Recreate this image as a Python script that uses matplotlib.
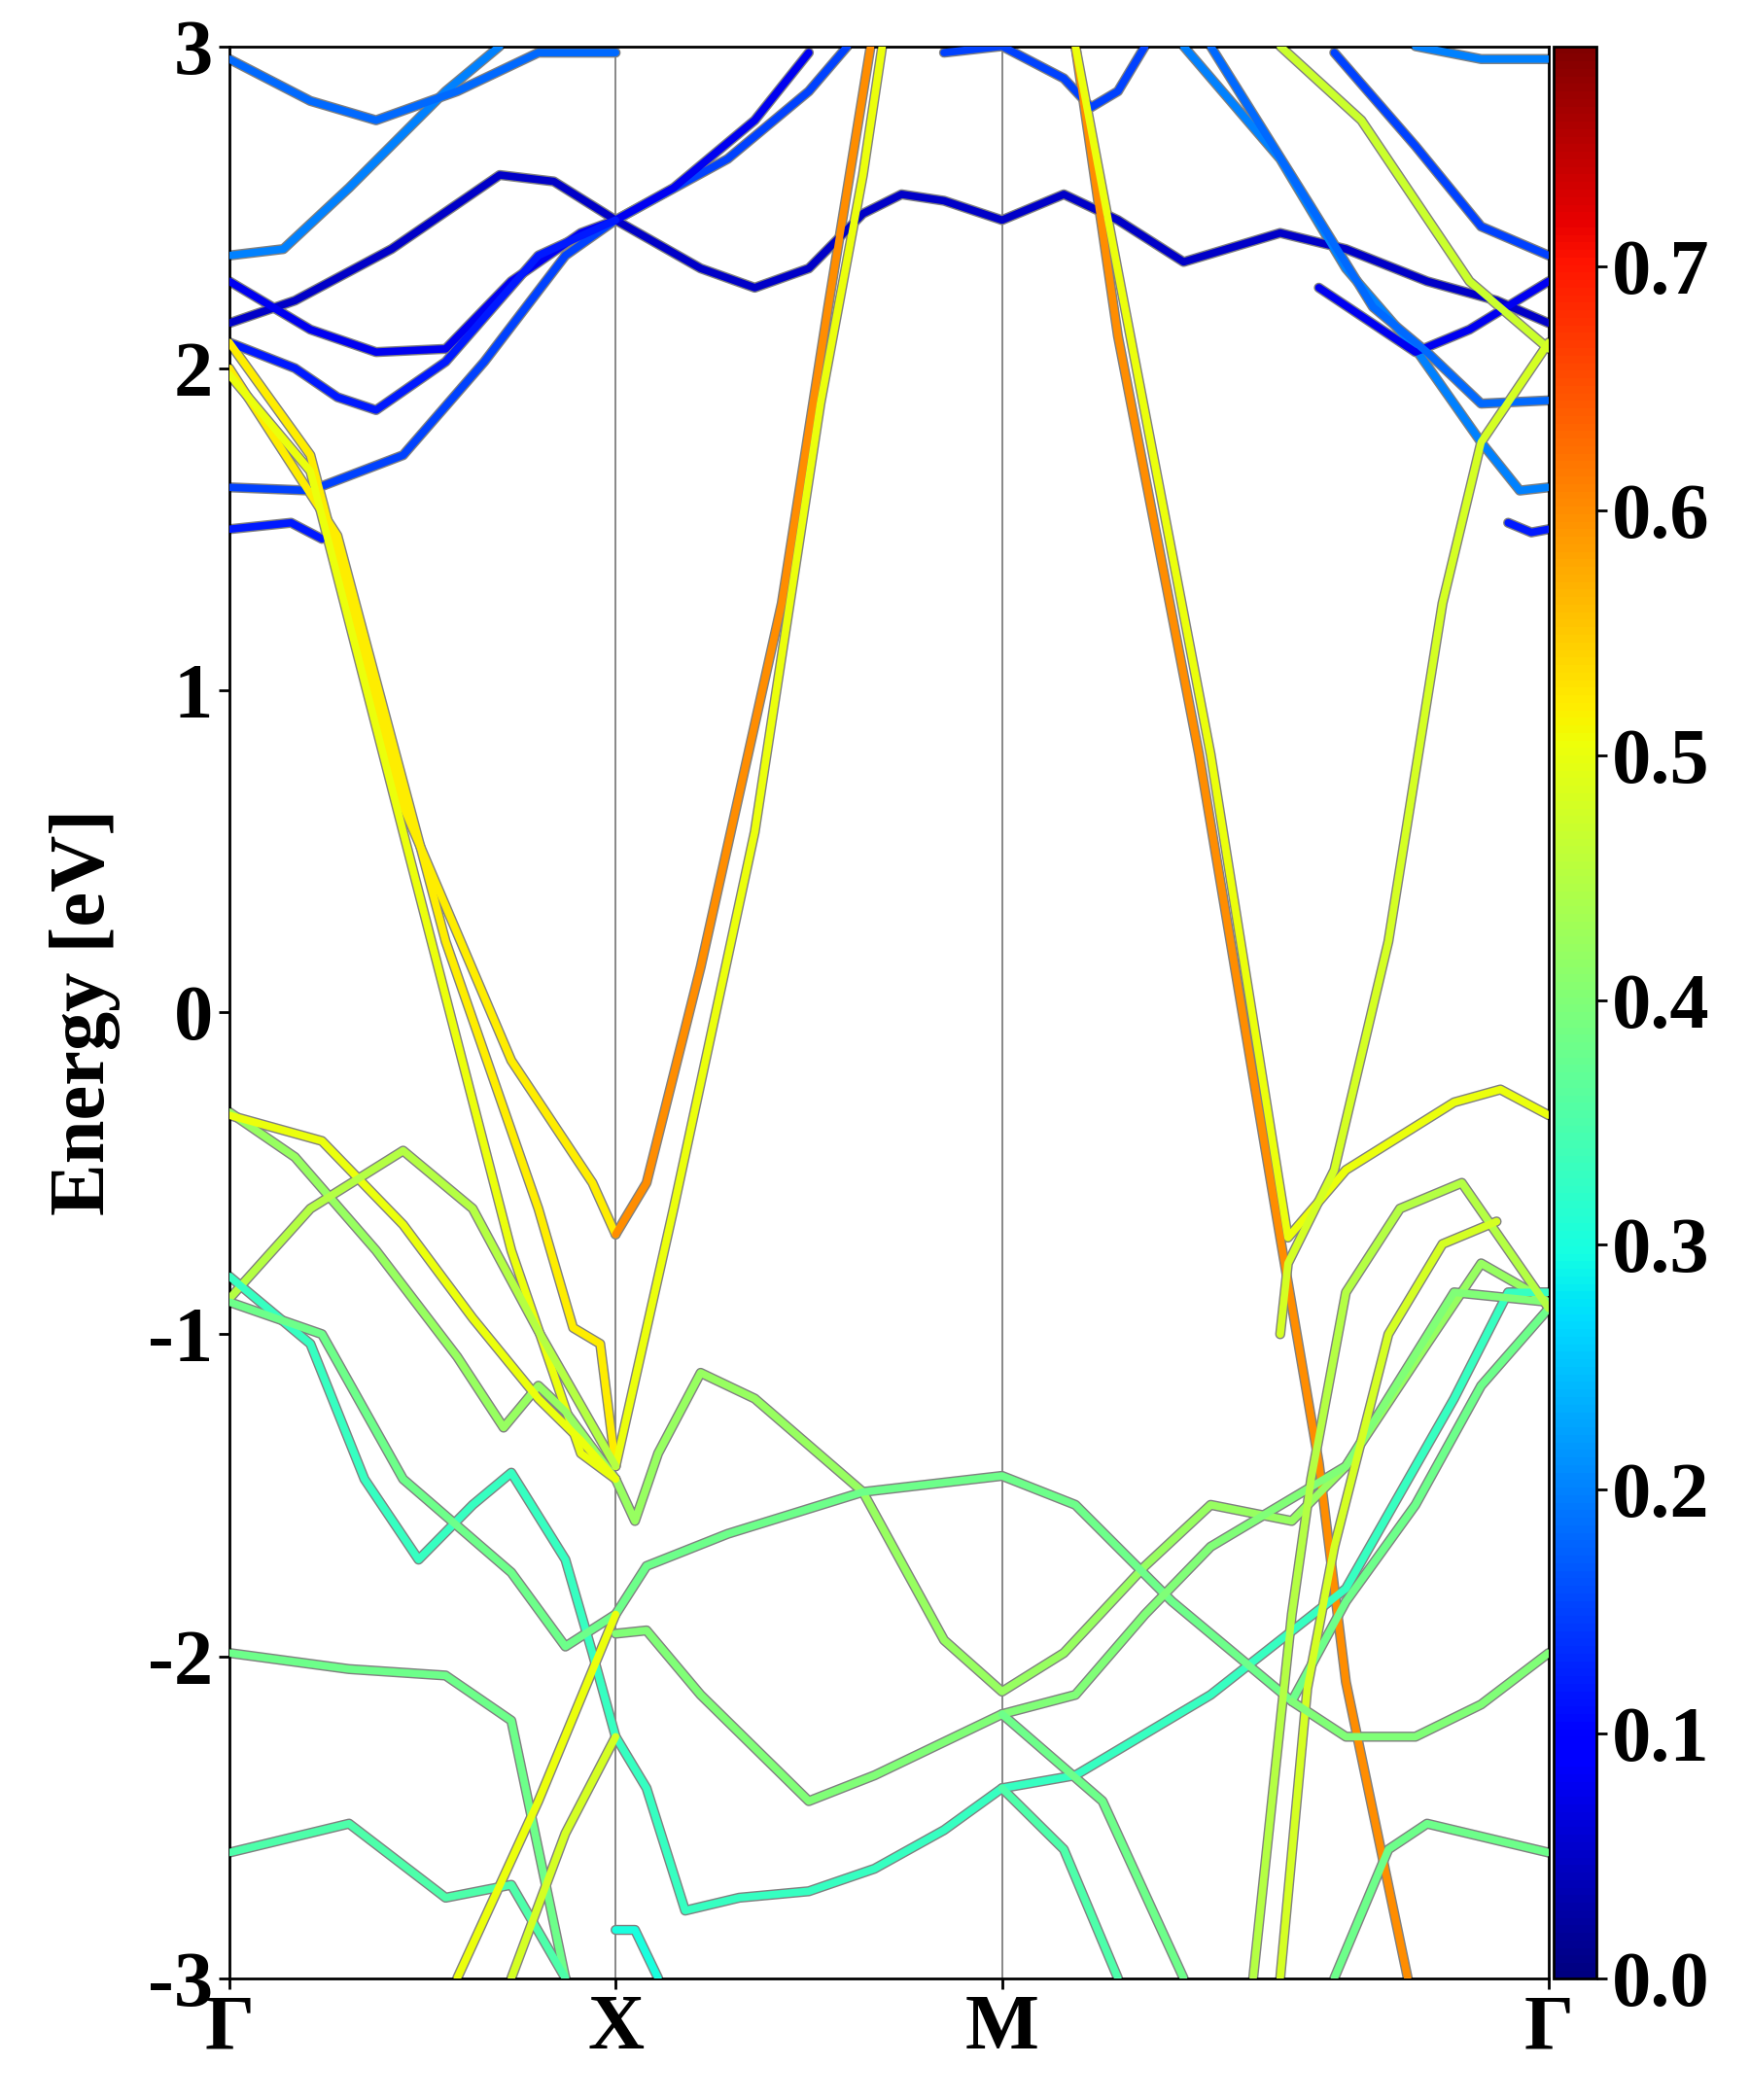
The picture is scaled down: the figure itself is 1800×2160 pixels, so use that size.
import numpy as np
import matplotlib
matplotlib.use("Agg")
import matplotlib.pyplot as plt
from matplotlib.colors import Normalize

plt.rcParams['font.family'] = ['Liberation Serif', 'DejaVu Serif']
plt.rcParams['font.weight'] = 'bold'

kpt_pos = [0.0, 1.0, 2.0, 3.415]
kpt_labels = ['Γ', 'X', 'M', 'Γ']
yticks = [-3, -2, -1, 0, 1, 2, 3]
cb_ticks = [0.0, 0.1, 0.2, 0.3, 0.4, 0.5, 0.6, 0.7]

# bands: (k list, E list, weight)
bands = [
    ([0, 0.16, 0.24], [1.50, 1.52, 1.47], 0.12),
    ([0, 0.21, 0.45, 0.66, 0.87, 1.0, 1.29, 1.50, 1.60], [1.63, 1.62, 1.73, 2.02, 2.35, 2.46, 2.65, 2.86, 3.0], 0.15),
    ([0, 0.17, 0.42, 0.70, 0.84, 1.0, 1.22, 1.36, 1.50, 1.64, 1.74, 1.85, 2.0, 2.16, 2.30, 2.47, 2.72, 2.89, 3.10, 3.28, 3.415],
     [2.14, 2.21, 2.37, 2.60, 2.58, 2.46, 2.31, 2.25, 2.31, 2.48, 2.54, 2.52, 2.46, 2.54, 2.46, 2.33, 2.42, 2.37, 2.27, 2.21, 2.14], 0.05),
    ([0, 0.21, 0.38, 0.56, 0.73, 0.91, 1.0, 1.15, 1.36, 1.50], [2.27, 2.12, 2.05, 2.06, 2.27, 2.42, 2.46, 2.56, 2.77, 2.98], 0.08),
    ([0, 0.17, 0.28, 0.38, 0.56, 0.80, 1.0], [2.08, 2.0, 1.91, 1.87, 2.02, 2.35, 2.46], 0.12),
    ([0, 0.14, 0.31, 0.56, 0.70], [2.35, 2.37, 2.56, 2.86, 3.0], 0.2),
    ([0, 0.21, 0.38, 0.59, 0.80, 1.0], [2.96, 2.83, 2.77, 2.86, 2.98, 2.98], 0.18),
    ([1.85, 2.0, 2.16, 2.23, 2.30, 2.37], [2.98, 3.0, 2.9, 2.81, 2.86, 3.0], 0.15),
    ([2.47, 2.72, 2.89, 3.07, 3.24, 3.34, 3.415], [3.0, 2.65, 2.31, 2.06, 1.77, 1.62, 1.63], 0.2),
    ([2.82, 3.07, 3.21, 3.415], [2.25, 2.05, 2.12, 2.27], 0.08),
    ([2.54, 2.79, 2.96, 3.10, 3.24, 3.415], [3.0, 2.52, 2.19, 2.05, 1.89, 1.90], 0.18),
    ([2.86, 3.07, 3.24, 3.415], [2.98, 2.69, 2.44, 2.35], 0.15),
    ([3.07, 3.24, 3.415], [3.0, 2.96, 2.96], 0.2),
    ([3.31, 3.37, 3.415], [1.52, 1.49, 1.50], 0.12),
    ([2.72, 2.93, 3.21, 3.415], [3.0, 2.77, 2.27, 2.06], 0.47),
    # yellow / orange
    ([0, 0.21, 0.45, 0.73, 0.94, 1.0], [2.08, 1.73, 0.64, -0.15, -0.53, -0.69], 0.52),
    ([1.0, 1.08, 1.22, 1.43, 1.55, 1.66], [-0.69, -0.53, 0.14, 1.27, 2.19, 3.0], 0.6),
    ([0, 0.28, 0.56, 0.80, 0.89, 0.96, 1.0], [2.0, 1.48, 0.22, -0.61, -0.98, -1.03, -1.41], 0.52),
    ([1.0, 1.15, 1.36, 1.53, 1.64, 1.69], [-1.41, -0.61, 0.56, 1.89, 2.6, 3.0], 0.5),
    ([0, 0.21, 0.45, 0.73, 0.91, 1.0], [1.98, 1.68, 0.56, -0.74, -1.37, -1.45], 0.5),
    ([2.19, 2.30, 2.51, 2.72, 2.82, 2.89, 3.05], [3.0, 2.1, 0.8, -0.7, -1.4, -2.08, -3.0], 0.6),
    ([2.19, 2.30, 2.54, 2.74, 2.89, 3.17, 3.29, 3.415], [3.0, 2.3, 0.8, -0.7, -0.49, -0.28, -0.24, -0.32], 0.5),
    ([3.415, 3.24, 3.14, 3.0, 2.86, 2.74, 2.72], [2.08, 1.77, 1.27, 0.22, -0.49, -0.78, -1.0], 0.48),
    # valence
    ([0, 0.17, 0.38, 0.59, 0.71, 0.80, 0.87, 1.0, 1.05, 1.11, 1.22, 1.36, 1.64, 1.85, 2.0, 2.16, 2.37, 2.54, 2.75, 2.89, 3.10, 3.24, 3.415],
     [-0.31, -0.45, -0.74, -1.07, -1.29, -1.16, -1.24, -1.45, -1.58, -1.37, -1.12, -1.20, -1.49, -1.95, -2.11, -1.99, -1.72, -1.53, -1.58, -1.41, -1.03, -0.78, -0.90], 0.42),
    ([0, 0.24, 0.45, 0.63, 0.80, 0.91, 1.0], [-0.32, -0.4, -0.66, -0.95, -1.2, -1.33, -1.45], 0.5),
    ([0, 0.21, 0.45, 0.63, 0.80, 1.0], [-0.89, -0.61, -0.43, -0.61, -0.99, -1.41], 0.45),
    ([0, 0.21, 0.35, 0.49, 0.63, 0.73, 0.87, 0.94, 1.0, 1.08, 1.18, 1.32, 1.50, 1.67, 1.85, 2.0, 2.19, 2.54, 2.89, 3.17, 3.31, 3.415],
     [-0.82, -1.03, -1.45, -1.70, -1.53, -1.43, -1.70, -1.99, -2.25, -2.41, -2.79, -2.75, -2.73, -2.66, -2.54, -2.41, -2.37, -2.12, -1.79, -1.20, -0.87, -0.87], 0.33),
    ([0, 0.24, 0.45, 0.73, 0.87, 1.0, 1.08, 1.29, 1.64, 2.0, 2.19, 2.44, 2.65, 2.75, 2.89, 3.07, 3.24, 3.415],
     [-0.90, -1.0, -1.45, -1.74, -1.97, -1.87, -1.72, -1.62, -1.49, -1.44, -1.53, -1.83, -2.04, -2.14, -1.83, -1.53, -1.16, -0.92], 0.38),
    ([1.0, 1.08, 1.22, 1.50, 1.67, 2.0, 2.19, 2.37, 2.54, 2.89, 3.17, 3.415],
     [-1.93, -1.92, -2.12, -2.45, -2.37, -2.18, -2.12, -1.87, -1.66, -1.41, -0.87, -0.90], 0.4),
    ([0, 0.31, 0.56, 0.73, 0.87], [-1.99, -2.04, -2.06, -2.2, -3.0], 0.38),
    ([0, 0.31, 0.56, 0.73, 0.87], [-2.61, -2.52, -2.75, -2.71, -3.0], 0.35),
    ([1.0, 1.05, 1.11], [-2.85, -2.85, -3.0], 0.3),
    ([1.0, 0.80, 0.59], [-1.87, -2.45, -3.0], 0.5),
    ([1.0, 0.87, 0.73], [-2.25, -2.55, -3.0], 0.48),
    ([2.0, 2.16, 2.30], [-2.41, -2.6, -3.0], 0.35),
    ([2.0, 2.26, 2.47], [-2.18, -2.45, -3.0], 0.38),
    ([2.65, 2.75, 2.80, 2.89, 3.03, 3.19, 3.415], [-3.0, -1.87, -1.45, -0.87, -0.61, -0.53, -0.92], 0.45),
    ([2.72, 2.79, 2.86, 3.0, 3.14, 3.28], [-3.0, -2.1, -1.66, -1.0, -0.72, -0.65], 0.48),
    ([3.415, 3.24, 3.07, 2.89, 2.75], [-1.99, -2.15, -2.25, -2.25, -2.14], 0.4),
    ([3.415, 3.10, 3.0, 2.93, 2.86], [-2.61, -2.52, -2.6, -2.8, -3.0], 0.38),
]

fig = plt.figure(figsize=(18, 21.6), dpi=100)
ax = fig.add_axes([0.131, 0.058, 0.754, 0.92])
cax = fig.add_axes([0.888, 0.058, 0.024, 0.92])
cmap = plt.get_cmap('jet')
norm = Normalize(0.0, 0.79)

for k, e, w in bands:
    ax.plot(k, e, color='0.5', lw=7.5, solid_capstyle='round', solid_joinstyle='round', zorder=2)
    ax.plot(k, e, color=cmap(norm(w)), lw=5.5, solid_capstyle='round', solid_joinstyle='round', zorder=3)

for kp in kpt_pos[1:-1]:
    ax.axvline(kp, color='0.45', lw=1.2, zorder=1)

FS = 58
ax.set_xlim(kpt_pos[0], kpt_pos[-1])
ax.set_ylim(-3, 3)
ax.set_xticks(kpt_pos)
ax.set_xticklabels(kpt_labels, fontsize=FS, fontweight='bold')
ax.set_yticks(yticks)
ax.set_yticklabels([str(t) for t in yticks], fontsize=FS, fontweight='bold')
ax.set_ylabel('Energy [eV]', fontsize=FS, fontweight='bold', labelpad=20)
ax.tick_params(length=8, width=2, pad=4)
for s in ax.spines.values():
    s.set_linewidth(2)

sm = plt.cm.ScalarMappable(norm=norm, cmap=cmap)
cb = fig.colorbar(sm, cax=cax, ticks=cb_ticks)
cb.ax.set_yticklabels([f'{t:.1f}' for t in cb_ticks], fontsize=FS, fontweight='bold')
cb.ax.tick_params(length=8, width=2)
cb.outline.set_linewidth(2)

fig.savefig('out.png', dpi=100)
